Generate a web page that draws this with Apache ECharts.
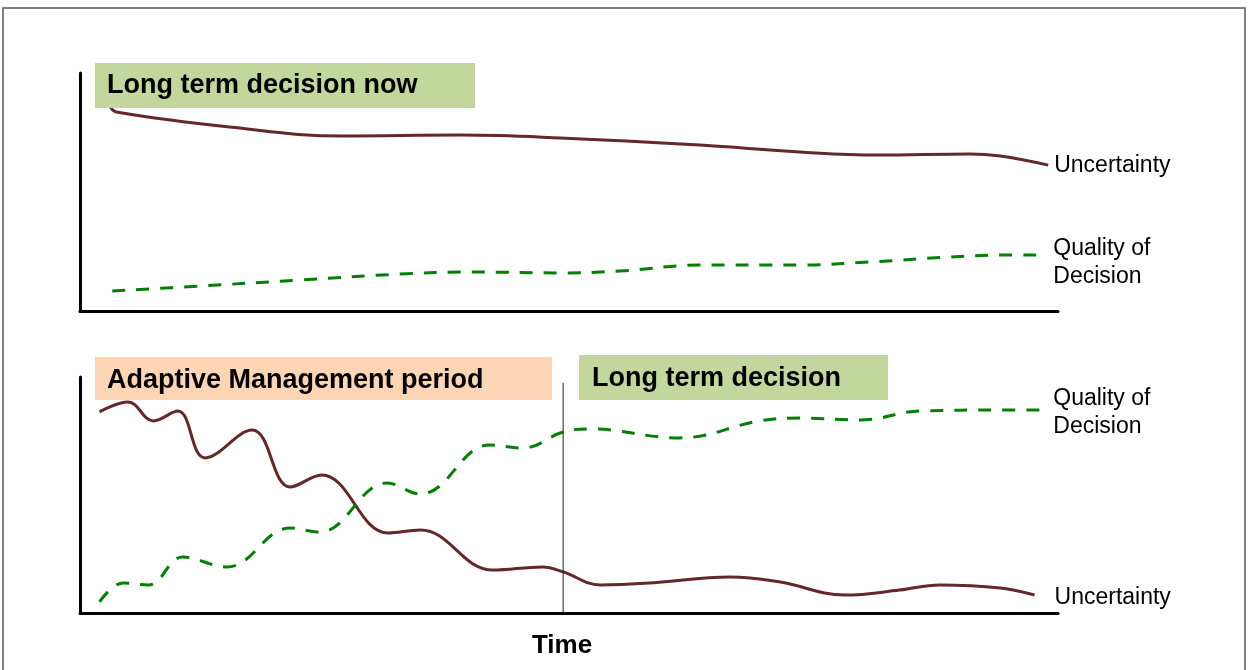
<!DOCTYPE html>
<html>
<head>
<meta charset="utf-8">
<script src="https://cdn.jsdelivr.net/npm/echarts@6/dist/echarts.min.js"></script>
<style>html,body{margin:0;padding:0;background:#fff;}#c{width:1248px;height:670px;}</style>
</head>
<body>
<div id="c"></div>
<script>
// ---- data (time 0-100, level 0-100) ----
const topUncertainty = [[3.1,85.7],[3.7,83.6],[15.3,77.3],[26.9,73.5],[38.9,73.9],[49.1,72.7],[63.4,69.7],[73.6,66.8],[81.5,65.5],[91.0,66.0],[94.1,65.1],[99.0,61.3]];
const topQuality = [[3.3,8.4],[12.3,10.5],[22.5,13.0],[32.7,15.5],[39.9,16.4],[49.1,16.0],[55.2,16.8],[63.4,19.3],[73.6,19.3],[80.8,20.6],[89.0,22.7],[94.1,23.5],[98.7,23.5]];
const botUncertainty = [[2.0,85.2],[4.9,89.4],[7.5,81.4],[10.0,85.6],[12.8,65.7],[17.6,77.5],[21.5,53.4],[24.7,58.5],[31.5,33.9],[34.8,35.2],[42.2,18.2],[47.3,19.5],[49.4,17.4],[53.2,11.9],[58.3,12.7],[66.5,15.3],[71.6,13.1],[78.2,7.6],[83.8,9.7],[87.9,11.9],[94.1,10.6],[97.6,7.6]];
const botQuality = [[2.0,4.7],[4.4,12.7],[7.0,11.9],[10.5,23.7],[15.0,19.5],[21.5,36.0],[24.5,34.3],[31.4,55.1],[34.8,50.4],[41.9,71.2],[45.3,69.9],[49.4,76.7],[52.1,78.0],[61.3,74.2],[69.5,81.4],[73.6,82.6],[79.8,81.8],[85.9,85.6],[94.1,86.0],[98.7,86.0]];
const dividerLine = [[49.4,0],[49.4,97.5]];
const panelTitles = ['Long term decision now','Adaptive Management period','Long term decision'];
const labelUnc = 'Uncertainty';
const labelQual = 'Quality of\nDecision';
const axisTitle = 'Time';

const BROWN = '#652728', GREEN = '#008000';
const chart = echarts.init(document.getElementById('c'));
const axLine = {show:true, onZero:false, lineStyle:{color:'#000', width:3}};
function xa(gi, extra){ return Object.assign({type:'value', gridIndex:gi, min:0, max:100, axisLine:axLine, axisTick:{show:false}, axisLabel:{show:false}, splitLine:{show:false}}, extra||{}); }
function ya(gi){ return {type:'value', gridIndex:gi, min:0, max:100, axisLine:axLine, axisTick:{show:false}, axisLabel:{show:false}, splitLine:{show:false}}; }
function endLbl(txt, dx, dy){ return {show:true, formatter:()=>txt, distance:6, offset:[dx,dy], fontFamily:'Liberation Sans, Arial', fontSize:23, lineHeight:28, color:'#000'}; }
function brown(gi, data, lbl){ return {type:'line', xAxisIndex:gi, yAxisIndex:gi, data, smooth:0.4, showSymbol:false, lineStyle:{color:BROWN, width:3}, endLabel:lbl, silent:true, animation:false}; }
function green(gi, data, lbl){ return {type:'line', xAxisIndex:gi, yAxisIndex:gi, data, smooth:0.4, showSymbol:false, lineStyle:{color:GREEN, width:3, type:[13,11]}, endLabel:lbl, silent:true, animation:false}; }

const TF = 'bold 27px "Liberation Sans", Arial';
chart.setOption({
  animation:false,
  grid:[{left:80, right:190, top:73, height:238},{left:80, right:190, top:377, height:236}],
  xAxis:[xa(0), xa(1,{name:axisTitle, nameLocation:'middle', nameGap:20, nameTextStyle:{fontFamily:'Liberation Sans, Arial', fontWeight:'bold', fontSize:26, color:'#000', padding:[0,14,0,0]}})],
  yAxis:[ya(0), ya(1)],
  series:[
    brown(0, topUncertainty, endLbl(labelUnc,0,1)),
    green(0, topQuality, endLbl(labelQual,2,8)),
    brown(1, botUncertainty, endLbl(labelUnc,14,3)),
    green(1, botQuality, endLbl(labelQual,2,3)),
    {type:'line', xAxisIndex:1, yAxisIndex:1, data:dividerLine, showSymbol:false, lineStyle:{color:'#222', width:1}, silent:true}
  ],
  graphic:[
    {type:'rect', shape:{x:3,y:8,width:1242,height:700}, style:{fill:'none', stroke:'#555', lineWidth:1.5}, silent:true},
    {type:'rect', shape:{x:95,y:63,width:380,height:45}, style:{fill:'#c3d69b'}, z:10},
    {type:'text', x:107, y:86, style:{text:panelTitles[0], font:TF, fill:'#000', verticalAlign:'middle'}, z:11},
    {type:'rect', shape:{x:95,y:357,width:457,height:43}, style:{fill:'#fcd5b5'}, z:10},
    {type:'text', x:107, y:381, style:{text:panelTitles[1], font:TF, fill:'#000', verticalAlign:'middle'}, z:11},
    {type:'rect', shape:{x:579,y:355,width:309,height:45}, style:{fill:'#c3d69b'}, z:10},
    {type:'text', x:592, y:379, style:{text:panelTitles[2], font:TF, fill:'#000', verticalAlign:'middle'}, z:11}
  ]
});
</script>
</body>
</html>
